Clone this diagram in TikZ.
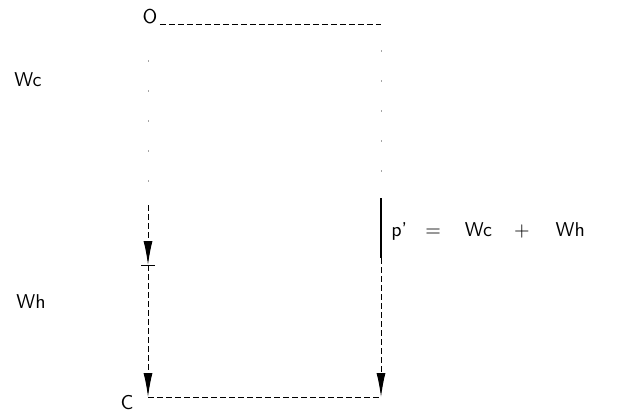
\documentclass[tikz,border=0pt]{standalone}
\usepackage{tikz}
\usetikzlibrary{arrows.meta}

\begin{document}
\begin{tikzpicture}[
    x=0.5pt, y=-0.5pt,
    lbl/.style={font=\sffamily, inner sep=1pt},
    conn/.style={dashed, line width=0.5pt, dash pattern=on 3pt off 1.5pt},
    faded/.style={gray!70, dash pattern=on 1pt off 14pt, line width=0.5pt},
    tip/.style={-{Latex[length=12pt, width=4.5pt]}}
]
    \useasboundingbox (0,0) rectangle (624,412);

    \node[lbl] (o) at (150,17) {O};
    \node[lbl] (c) at (127,403) {C};
    \coordinate (tl) at (148,60);
    \coordinate (tr) at (381,24);
    \coordinate (mid) at (148,265);
    \coordinate (br) at (381,397);
    \coordinate (bl) at (148,397);

    \node[lbl, anchor=west] (wc) at (12,80) {Wc};
    \node[lbl, anchor=west] (wh) at (14,302) {Wh};
    \node[lbl, anchor=west] (pp) at (389,231)
        {p'\hspace{9pt}=\hspace{12pt}Wc\hspace{11pt}+\hspace{13pt}Wh};

    % top and bottom edges
    \draw[conn] (o.east |- tr) -- (tr);
    \draw[conn] (bl) -- (br);

    % left side
    \draw[faded] (tl) -- (148,200);
    \draw[conn, tip] (148,205) -- (mid);
    \draw (141,265) -- (155,265);
    \draw[conn, tip] (mid) -- (bl);

    % right side
    \draw[faded] (381,50) -- (tr |- pp.north);
    \draw[line width=0.7pt] (381,198) -- (381,258);
    \draw[conn, tip] (381,258) -- (br);
\end{tikzpicture}
\end{document}
